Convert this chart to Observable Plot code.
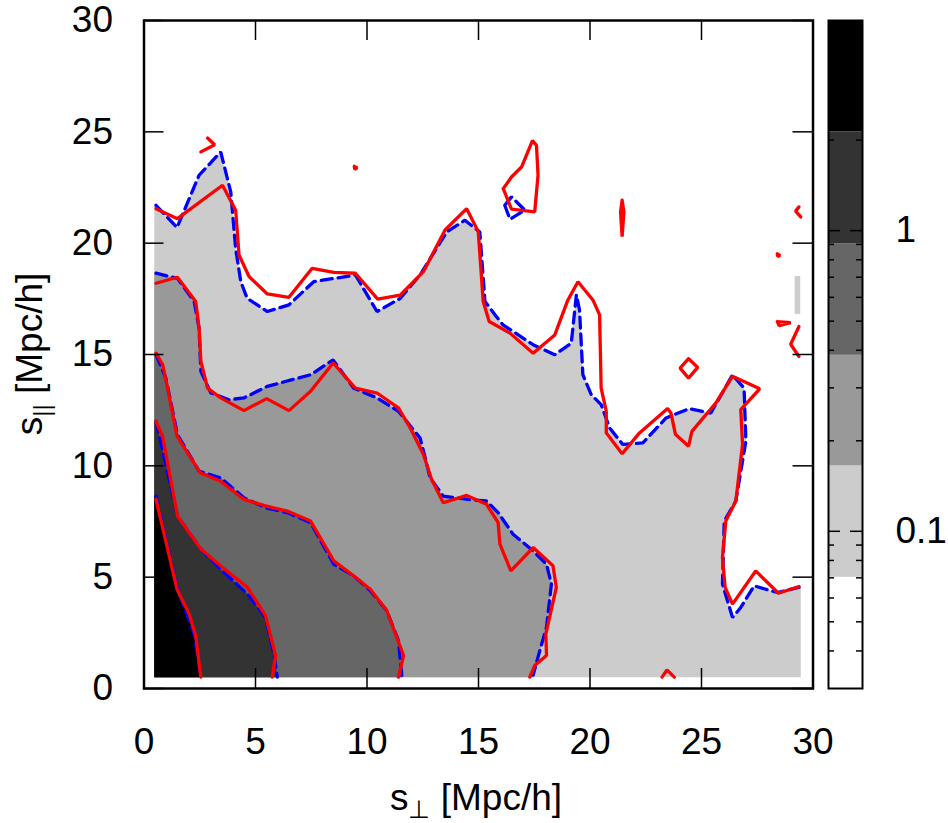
<!DOCTYPE html>
<html><head><meta charset="utf-8">
<script src="https://cdn.jsdelivr.net/npm/d3@7"></script>
<script src="https://cdn.jsdelivr.net/npm/@observablehq/plot@0.6"></script>
<style>
body{margin:0;background:#fff;}
#wrap{position:relative;width:948px;height:823px;overflow:hidden;background:#fff;}
#wrap svg{position:absolute;top:0;}
</style></head><body><div id="wrap"></div>
<script>
// ---- axis ticks ----
const xTicks = [0, 5, 10, 15, 20, 25, 30];
const yTicks = [0, 5, 10, 15, 20, 25, 30];

// ---- colour bar (log scale) ----
const cbBreaks = [0.03, 0.0703, 0.165, 0.385, 0.905, 2.13, 5];
const cbColors = ["#ffffff", "#cccccc", "#999999", "#666666", "#333333", "#000000"];
const cbMajor = [0.1, 1];
const cbMinor = [0.04, 0.05, 0.06, 0.07, 0.08, 0.09, 0.2, 0.3, 0.4, 0.5, 0.6, 0.7, 0.8, 0.9, 2, 3, 4];

// ---- contours: blue dashed (level 1 = 0.07 ... level 5 = 2.13) ----
const blue1 = [[0.54,21.7],[1.48,20.7],[2.47,23.05],[3.44,24.1],[3.89,22.3],[4.11,19.76],[4.34,18.27],[4.63,17.52],[5.53,16.93],[6.5,17.23],[7.61,18.27],[9.48,18.57],[10.45,16.93],[11.49,17.52],[12.38,18.57],[13.58,20.51],[14.39,21.03],[15.06,20.5],[15.29,17.38],[15.74,16.78],[16.1,16.33],[17.45,15.44],[18.42,14.99],[19.16,15.51],[19.39,17.68],[19.53,17.0],[19.68,14.09],[20.06,13.19],[20.5,12.75],[20.88,11.7],[21.47,10.96],[22.37,11.03],[23.41,12.15],[24.45,12.57],[25.42,12.37],[26.39,14.09],[26.91,13.49],[26.99,11.11],[26.54,8.42],[26.02,7.52],[25.94,4.69],[26.39,3.19],[26.76,3.64],[27.36,4.61],[28.4,4.31],[29.37,4.54]];
const blueLoop = [[16.18,21.7],[16.48,22.08],[17.08,21.48],[16.41,21.07],[16.18,21.7]];
const blue2 = [[0.54,18.65],[1.5,18.42],[2.25,17.38],[2.47,16.18],[2.55,14.24],[3.0,13.27],[3.81,12.97],[4.48,13.05],[5.53,13.57],[7.47,14.09],[8.48,14.76],[9.4,13.49],[10.45,13.05],[11.41,12.45],[12.38,11.25],[12.61,10.36],[12.83,9.46],[13.42,8.64],[14.54,8.49],[15.36,8.42],[15.88,7.9],[16.55,6.93],[17.45,6.18],[18.05,5.58],[18.27,4.69],[18.05,2.75],[17.75,1.7],[17.45,0.6]];
const blue3 = [[0.54,14.99],[0.98,13.94],[1.5,11.4],[2.47,9.76],[3.44,9.46],[4.48,8.57],[5.45,8.12],[6.42,7.9],[7.47,7.45],[8.51,5.58],[9.4,5.06],[10.15,4.39],[10.89,3.49],[11.41,2.15],[11.56,0.58]];
const blue4 = [[0.54,12.0],[1.5,7.75],[2.55,6.26],[3.52,5.28],[4.64,4.24],[5.45,3.19],[5.82,1.55],[5.98,0.51]];
const blue5 = [[0.54,8.64],[1.48,4.54],[2.25,2.45],[2.55,0.51]];

// ---- contours: red solid ----
const red1 = [[0.54,21.55],[1.5,21.1],[3.52,22.6],[4.11,21.48],[4.26,19.47],[4.71,18.5],[5.53,17.72],[6.5,17.57],[7.54,18.87],[8.51,18.69],[9.48,18.65],[10.48,17.49],[11.49,17.67],[12.53,18.72],[13.5,20.59],[14.47,21.55],[14.99,20.51],[15.21,17.38],[15.48,16.48],[16.41,15.96],[17.45,15.06],[18.42,15.88],[19.01,17.45],[19.46,18.27],[20.13,17.45],[20.43,16.78],[20.5,13.49],[20.73,12.45],[20.73,11.48],[21.44,10.54],[22.22,11.48],[23.48,12.57],[23.63,12.37],[23.83,11.42],[24.42,10.88],[24.57,11.55],[25.64,12.82],[26.39,14.02],[27.61,13.46],[26.76,12.52],[26.84,10.96],[26.54,8.42],[26.09,7.52],[25.94,5.88],[26.06,4.54],[26.39,3.79],[27.43,5.28],[28.45,4.28],[29.37,4.58]];
const redLoopA = [[16.11,22.45],[16.48,22.97],[16.93,23.42],[17.42,24.61],[17.6,24.39],[17.67,23.05],[17.52,21.41],[16.48,21.53],[16.11,22.45]];
const redEllipse = [[21.44,21.93],[21.52,21.4],[21.44,20.29],[21.37,21.4],[21.44,21.93]];
const redFragTop = [[2.55,24.1],[3.17,24.42],[2.85,24.72]];
const redDot1 = [[9.43,23.45],[9.56,23.38],[9.45,23.32],[9.43,23.45]];
const redRight1 = [[29.37,21.63],[29.22,21.44],[29.45,21.18]];
const redDot2 = [[28.4,19.52],[28.52,19.45],[28.42,19.4],[28.4,19.52]];
const redTri = [[28.4,16.48],[29.0,16.43],[28.48,16.3],[28.4,16.48]];
const redRight2 = [[29.37,16.26],[29.0,15.46],[29.37,14.91]];
const redDiamond = [[24.42,14.81],[24.83,14.42],[24.42,13.94],[24.04,14.39],[24.42,14.81]];
const redCaret = [[23.23,0.51],[23.45,0.84],[23.78,0.51]];
const red2 = [[0.54,18.2],[1.5,18.47],[2.32,17.38],[2.47,16.18],[2.55,14.69],[2.85,13.49],[3.44,13.05],[4.48,12.48],[5.5,13.02],[6.5,12.48],[7.47,13.35],[8.48,14.62],[9.48,13.49],[10.45,13.27],[11.41,12.6],[11.94,11.7],[12.53,10.51],[12.9,9.39],[13.42,8.34],[14.47,8.67],[15.36,8.27],[15.88,7.45],[15.96,6.48],[16.45,5.28],[17.45,6.33],[18.34,5.51],[18.49,4.54],[18.02,2.45],[18.05,1.48],[17.52,1.03],[17.3,0.51]];
const red3 = [[0.54,15.06],[0.84,14.54],[1.06,13.49],[1.48,11.33],[2.52,9.69],[3.44,9.31],[4.48,8.49],[5.45,8.2],[6.42,7.97],[7.47,7.52],[8.51,5.73],[9.4,5.06],[10.15,4.46],[10.89,3.49],[11.64,1.48],[11.41,0.51]];
const red4 = [[0.54,12.0],[0.84,11.3],[1.5,7.75],[2.55,6.26],[3.52,5.43],[4.64,4.54],[5.45,3.27],[5.9,1.48],[5.75,0.51]];
const red5 = [[0.54,8.49],[1.48,4.46],[2.03,3.34],[2.32,2.37],[2.55,0.51]];

// small isolated grey patch near the right edge
const greyPatch = [{x1: 29.2, x2: 29.45, y1: 16.8, y2: 18.5}];

// data extent of the gridded map
const gridX0 = 0.46, gridY0 = 0.5, gridX1 = 29.45;

// ---- build fill polygons from the contours (region between contour and grid corner) ----
function region(contour, tail) {
  return [[gridX0, contour[0][1]], ...contour, ...tail, [gridX0, gridY0]];
}
const fills = [
  {pts: region(blue1, [[gridX1, blue1[blue1.length-1][1]], [gridX1, gridY0]]), color: cbColors[1]},
  {pts: region(blue2, [[blue2[blue2.length-1][0], gridY0]]), color: cbColors[2]},
  {pts: region(blue3, [[blue3[blue3.length-1][0], gridY0]]), color: cbColors[3]},
  {pts: region(blue4, [[blue4[blue4.length-1][0], gridY0]]), color: cbColors[4]},
  {pts: region(blue5, [[blue5[blue5.length-1][0], gridY0]]), color: cbColors[5]}
];
const blueLines = [blue1, blueLoop, blue2, blue3, blue4, blue5];
const redLines = [red1, redLoopA, redEllipse, redFragTop, redDot1, redRight1, redDot2, redTri, redRight2, redDiamond, redCaret, red2, red3, red4, red5];

const FONT = "'Liberation Sans', Arial, Helvetica, sans-serif";
const FS = 37;
const px = d => d[0], py = d => d[1];

const main = Plot.plot({
  width: 815, height: 823,
  marginLeft: 143.5, marginRight: 2.5, marginTop: 20, marginBottom: 135,
  style: {fontFamily: FONT, fontSize: FS + "px", background: "white", color: "black", overflow: "visible"},
  x: {domain: [0, 30], ticks: xTicks, tickSize: 0, tickPadding: 39, label: null},
  y: {domain: [0, 30], ticks: yTicks, tickSize: 0, tickPadding: 31, label: null},
  marks: [
    ...fills.map(f => Plot.line(f.pts, {x: px, y: py, fill: f.color, stroke: "none"})),
    Plot.rect(greyPatch, {x1: "x1", x2: "x2", y1: "y1", y2: "y2", fill: cbColors[1]}),
    ...blueLines.map(l => Plot.line(l, {x: px, y: py, stroke: "#0000ff", strokeWidth: 3.3, strokeDasharray: "11,6", strokeLinejoin: "miter"})),
    ...redLines.map(l => Plot.line(l, {x: px, y: py, stroke: "#ff0000", strokeWidth: 3.3, strokeLinejoin: "miter"})),
    Plot.ruleX(xTicks, {insetTop: 648, stroke: "black", strokeWidth: 1.5}),
    Plot.ruleX(xTicks, {insetBottom: 648, stroke: "black", strokeWidth: 1.5}),
    Plot.ruleY(yTicks, {insetRight: 649, stroke: "black", strokeWidth: 1.5}),
    Plot.ruleY(yTicks, {insetLeft: 649, stroke: "black", strokeWidth: 1.5}),
    Plot.frame({stroke: "black", strokeWidth: 2.5})
  ]
});

// axis titles with subscripts
const ms = d3.select(main);
const xl = ms.append("text").attr("x", 476).attr("y", 810).attr("text-anchor", "middle")
  .attr("font-family", FONT).attr("font-size", FS).attr("fill", "black");
xl.append("tspan").text("s");
xl.append("tspan").attr("font-size", 25).attr("dy", 8).text("\u22A5");
xl.append("tspan").attr("dy", -8).text(" [Mpc/h]");
const yl = ms.append("text").attr("transform", "translate(42,354) rotate(-90)").attr("text-anchor", "middle")
  .attr("font-family", FONT).attr("font-size", FS).attr("fill", "black");
yl.append("tspan").text("s");
yl.append("tspan").attr("font-size", 24).attr("dy", 8).text("||");
yl.append("tspan").attr("dy", -8).text(" [Mpc/h]");

const cbBands = cbColors.map((c, i) => ({lo: cbBreaks[i], hi: cbBreaks[i + 1], color: c}));
const cb = Plot.plot({
  width: 133, height: 823,
  marginLeft: 13, marginRight: 86, marginTop: 20, marginBottom: 135,
  style: {fontFamily: FONT, fontSize: FS + "px", background: "transparent", color: "black", overflow: "visible"},
  x: {domain: [0, 1], axis: null},
  y: {type: "log", domain: [0.03, 5], ticks: cbMajor, tickFormat: d => (d >= 1 ? "1" : "0.1"), tickSize: 0, tickPadding: 33, axis: "right", label: null},
  color: {type: "identity"},
  marks: [
    Plot.rect(cbBands, {x1: 0, x2: 1, y1: "lo", y2: "hi", fill: "color"}),
    Plot.ruleY(cbMinor, {insetRight: 28, stroke: "black", strokeWidth: 1.5}),
    Plot.ruleY(cbMinor, {insetLeft: 28, stroke: "black", strokeWidth: 1.5}),
    Plot.ruleY(cbMajor, {insetRight: 22, stroke: "black", strokeWidth: 1.5}),
    Plot.ruleY(cbMajor, {insetLeft: 22, stroke: "black", strokeWidth: 1.5}),
    Plot.frame({stroke: "black", strokeWidth: 2})
  ]
});
cb.style.left = "815px";
main.style.left = "0px";
document.getElementById("wrap").append(main, cb);
</script></body></html>
